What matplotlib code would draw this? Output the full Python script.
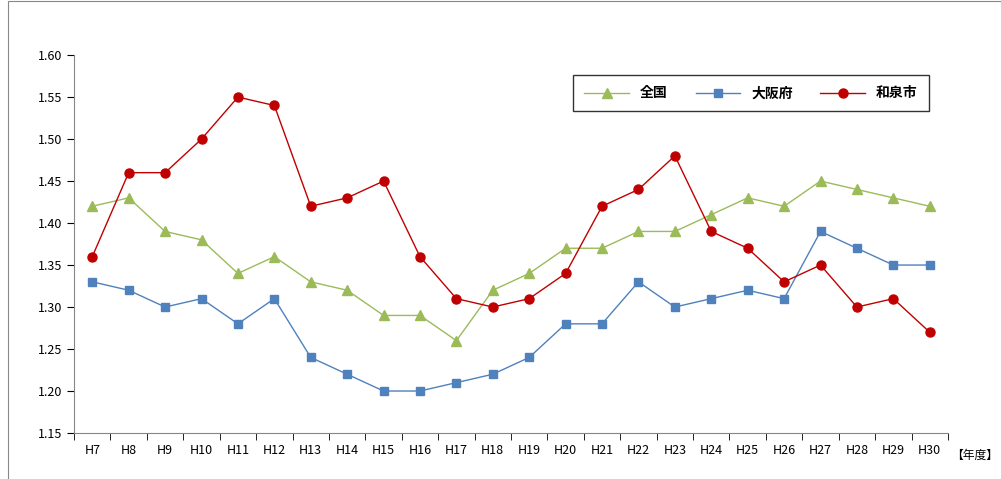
import matplotlib.pyplot as plt
import numpy as np

plt.rcParams['font.family'] = ['Noto Sans CJK JP', 'DejaVu Sans']

years = ['H7', 'H8', 'H9', 'H10', 'H11', 'H12', 'H13', 'H14', 'H15', 'H16', 'H17', 'H18',
         'H19', 'H20', 'H21', 'H22', 'H23', 'H24', 'H25', 'H26', 'H27', 'H28', 'H29', 'H30']
zenkoku = [1.42, 1.43, 1.39, 1.38, 1.34, 1.36, 1.33, 1.32, 1.29, 1.29, 1.26, 1.32,
           1.34, 1.37, 1.37, 1.39, 1.39, 1.41, 1.43, 1.42, 1.45, 1.44, 1.43, 1.42]
osaka = [1.33, 1.32, 1.30, 1.31, 1.28, 1.31, 1.24, 1.22, 1.20, 1.20, 1.21, 1.22,
         1.24, 1.28, 1.28, 1.33, 1.30, 1.31, 1.32, 1.31, 1.39, 1.37, 1.35, 1.35]
izumi = [1.36, 1.46, 1.46, 1.50, 1.55, 1.54, 1.42, 1.43, 1.45, 1.36, 1.31, 1.30,
         1.31, 1.34, 1.42, 1.44, 1.48, 1.39, 1.37, 1.33, 1.35, 1.30, 1.31, 1.27]

fig = plt.figure(figsize=(10.01, 4.79), dpi=100)
ax = fig.add_axes([0.074, 0.096, 0.873, 0.789])
x = np.arange(len(years))

ax.plot(x, zenkoku, color='#9BBB59', marker='^', markersize=7, lw=1, label='全国')
ax.plot(x, osaka, color='#4F81BD', marker='s', markersize=5.5, lw=1, label='大阪府')
ax.plot(x, izumi, color='#C00000', marker='o', markersize=6.5, lw=1, label='和泉市')

ax.set_xlim(-0.5, len(years) - 0.5)
ax.set_ylim(1.15, 1.60)
ax.set_yticks(np.arange(1.15, 1.601, 0.05))
ax.set_yticklabels([f'{v:.2f}' for v in np.arange(1.15, 1.601, 0.05)])
ax.set_xticks(x)
ax.set_xticklabels(years)
ax.set_xticks(np.arange(-0.5, len(years), 1), minor=True)
ax.tick_params(axis='x', which='major', length=0, labelsize=9, pad=8)
ax.tick_params(axis='x', which='minor', length=5, direction='out')
ax.tick_params(axis='y', labelsize=9, length=5)
ax.spines['top'].set_visible(False)
ax.spines['right'].set_visible(False)
for s in ['left', 'bottom']:
    ax.spines[s].set_color('#868686')

ax.text(1.004, -0.06, '【年度】', transform=ax.transAxes, fontsize=8.5, va='center')

leg = ax.legend(loc='upper right', bbox_to_anchor=(0.986, 0.965), ncol=3, frameon=True,
                fancybox=False, edgecolor='black', fontsize=10, handlelength=3.2,
                columnspacing=2.0, borderpad=0.8)
for t in leg.get_texts():
    t.set_fontweight('bold')

fig.add_artist(plt.Rectangle((0.008, -0.01), 1.0, 1.008, transform=fig.transFigure,
                             fill=False, edgecolor='#888888', lw=0.8))
fig.savefig('out.png', dpi=100)
